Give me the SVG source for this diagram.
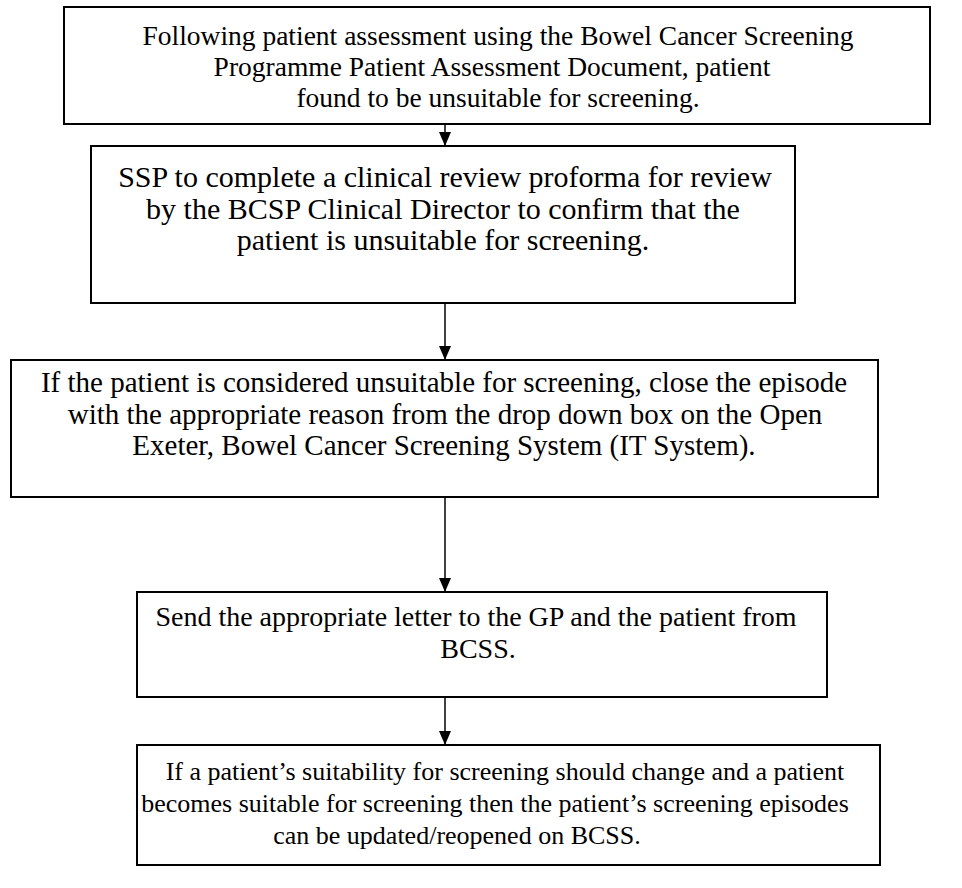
<svg xmlns="http://www.w3.org/2000/svg" width="962" height="888" viewBox="0 0 962 888">
<defs>
<marker id="ah" markerWidth="14" markerHeight="12" refX="14" refY="6" orient="auto" markerUnits="userSpaceOnUse" viewBox="0 0 14 12">
<path d="M0,0 L14,6 L0,12 Z" fill="#000"/>
</marker>
</defs>
<style>
.box{fill:#fff;stroke:#000;stroke-width:2}
.t{font-family:"Liberation Serif","Times New Roman",serif;font-size:27.5px;fill:#000;text-anchor:middle}
.c{stroke:#000;stroke-width:1.5;fill:none}
</style>
<rect width="962" height="888" fill="#fff"/>
<g id="n1">
<rect class="box" x="64" y="7" width="866" height="117"/>
<text class="t" x="498" y="45">Following patient assessment using the Bowel Cancer Screening</text>
<text class="t" x="492" y="76">Programme Patient Assessment Document, patient</text>
<text class="t" x="498" y="107">found to be unsuitable for screening.</text>
</g>
<g id="n2">
<rect class="box" x="91" y="146" width="704" height="157"/>
<text class="t" x="445" y="187" style="font-size:30px">SSP to complete a clinical review proforma for review</text>
<text class="t" x="443" y="219" style="font-size:30px">by the BCSP Clinical Director to confirm that the</text>
<text class="t" x="443" y="250" style="font-size:30px">patient is unsuitable for screening.</text>
</g>
<g id="n3">
<rect class="box" x="11" y="360" width="867" height="137"/>
<text class="t" x="444" y="392" style="font-size:29px">If the patient is considered unsuitable for screening, close the episode</text>
<text class="t" x="445" y="424" style="font-size:29px">with the appropriate reason from the drop down box on the Open</text>
<text class="t" x="444" y="455" style="font-size:29px">Exeter, Bowel Cancer Screening System (IT System).</text>
</g>
<g id="n4">
<rect class="box" x="137" y="592" width="690" height="105"/>
<text class="t" x="476" y="626" style="font-size:28px">Send the appropriate letter to the GP and the patient from</text>
<text class="t" x="478" y="658" style="font-size:28px">BCSS.</text>
</g>
<g id="n5">
<rect class="box" x="137" y="745" width="743" height="120"/>
<text class="t" x="505" y="780" style="font-size:26px">If a patient’s suitability for screening should change and a patient</text>
<text class="t" x="495" y="812" style="font-size:26px">becomes suitable for screening then the patient’s screening episodes</text>
<text class="t" x="457" y="844" style="font-size:26px">can be updated/reopened on BCSS.</text>
</g>
<g id="connectors">
<line class="c" x1="445" y1="124" x2="445" y2="146" marker-end="url(#ah)"/>
<line class="c" x1="445" y1="303" x2="445" y2="360" marker-end="url(#ah)"/>
<line class="c" x1="445" y1="497" x2="445" y2="592" marker-end="url(#ah)"/>
<line class="c" x1="445" y1="697" x2="445" y2="745" marker-end="url(#ah)"/>
</g>
</svg>
